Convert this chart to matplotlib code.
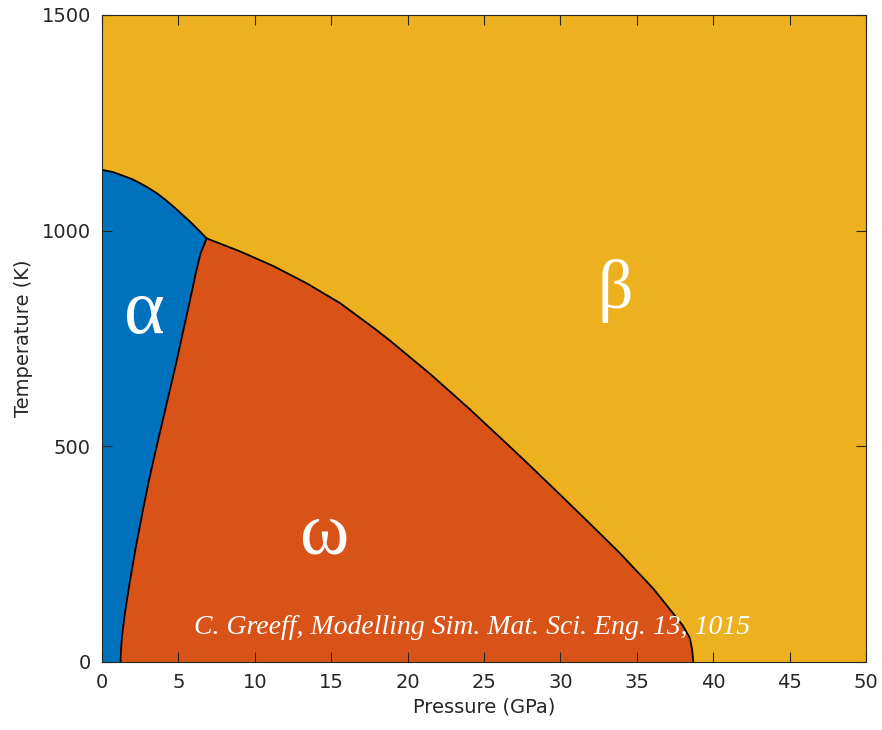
"""Phase diagram of Zr (alpha / omega / beta) after Greeff."""

import matplotlib
matplotlib.use("Agg")
import matplotlib.pyplot as plt

# alpha-beta boundary (P in GPa, T in K), from P=0 to the triple point
ab_P = [0.0, 0.7, 1.4, 2.0, 2.49, 3.0, 3.58, 4.1, 4.67, 5.2, 5.76, 6.1, 6.41, 6.85]
ab_T = [1141, 1136, 1127, 1119, 1110, 1100, 1087, 1073, 1056, 1039, 1021, 1009, 998, 982]

# alpha-omega boundary, from triple point down to T=0
aw_P = [6.85, 6.45, 6.13, 5.95, 5.72, 5.33, 4.90, 4.60, 4.24, 3.83, 3.45, 3.08,
        2.64, 2.22, 1.84, 1.50, 1.31, 1.24, 1.22]
aw_T = [982, 947, 900, 870, 832, 770, 700, 654, 600, 538, 480, 422,
        345, 267, 190, 113, 59, 25, 0]

# omega-beta boundary, from triple point down to T=0
wb_P = [6.85, 9.03, 11.21, 13.39, 15.58, 17.76, 18.85, 21.5, 24.1, 27.36, 29.54,
        31.72, 33.9, 36.08, 37.39, 38.0, 38.48, 38.62, 38.70]
wb_T = [982, 952, 918, 878, 832, 775, 745, 667, 585, 477, 403,
        328, 252, 170, 112, 85, 55, 28, 0]

x_ticks = [0, 5, 10, 15, 20, 25, 30, 35, 40, 45, 50]
y_ticks = [0, 500, 1000, 1500]

BLUE = "#0072BD"
ORANGE = "#D95319"
YELLOW = "#EDB120"

fig = plt.figure(figsize=(8.82, 7.3), dpi=100)
ax = fig.add_axes([0.1156, 0.0932, 0.8663, 0.8863])
ax.set_facecolor(YELLOW)

# alpha region
alpha_P = [0.0] + ab_P + aw_P[1:] + [0.0]
alpha_T = [0.0] + ab_T + aw_T[1:] + [0.0]
ax.fill(alpha_P, alpha_T, color=BLUE, lw=0)

# omega region
omega_P = aw_P[::-1] + wb_P[1:]
omega_T = aw_T[::-1] + wb_T[1:]
ax.fill(omega_P, omega_T, color=ORANGE, lw=0)

for P, T in [(ab_P, ab_T), (aw_P, aw_T), (wb_P, wb_T)]:
    ax.plot(P, T, color="black", lw=1.3, solid_joinstyle="round")

serif = "Liberation Serif"
ax.text(2.8, 805, "α", color="white", fontsize=56, family=serif, ha="center", va="center")
ax.text(33.6, 860, "β", color="white", fontsize=50, family=serif, ha="center", va="center")
ax.text(14.5, 292, "ω", color="white", fontsize=54, family=serif, ha="center", va="center")
ax.text(24.2, 80, "C. Greeff, Modelling Sim. Mat. Sci. Eng. 13, 1015", color="white",
        fontsize=20, family=serif, style="italic", ha="center", va="center")

ax.set_xlim(0, 50)
ax.set_ylim(0, 1500)
ax.set_xticks(x_ticks)
ax.set_yticks(y_ticks)
ax.tick_params(direction="in", top=True, right=True, length=7, width=0.8,
               labelsize=14, colors="#262626", pad=8)
for s in ax.spines.values():
    s.set_color("#262626")
    s.set_linewidth(0.8)
ax.set_xlabel("Pressure (GPa)", fontsize=14, color="#262626", labelpad=4)
ax.set_ylabel("Temperature (K)", fontsize=14, color="#262626", labelpad=6)

fig.savefig("out.png", dpi=100)
